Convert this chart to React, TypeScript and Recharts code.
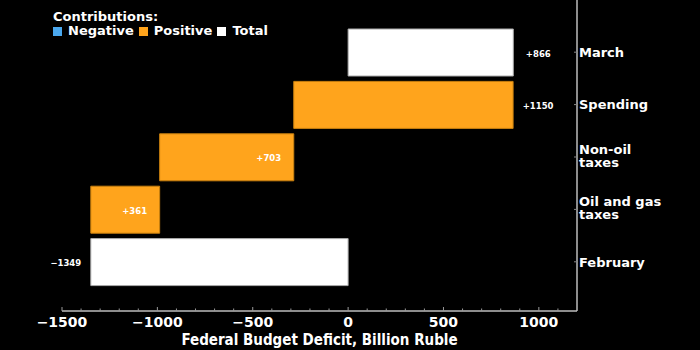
import React from "react";
import { BarChart, Bar, XAxis, YAxis, Cell, LabelList, Label } from "recharts";

// rows from top to bottom
const categories = ["March", "Spending", "Non-oil\ntaxes", "Oil and gas\ntaxes", "February"];
const values = [866, 1150, 703, 361, -1349];
const kinds = ["total", "positive", "positive", "positive", "total"];

const xTicks = [
  -1500, -1400, -1300, -1200, -1100, -1000, -900, -800, -700, -600, -500, -400, -300, -200, -100,
  0, 100, 200, 300, 400, 500, 600, 700, 800, 900, 1000, 1100,
];
const majorTicks = [-1500, -1000, -500, 0, 500, 1000];

const legendItems = [
  { name: "Negative", color: "#4aa8ef" },
  { name: "Positive", color: "#ffa41c" },
  { name: "Total", color: "#ffffff" },
];

const FILL: Record<string, string> = { positive: "#ffa41c", negative: "#4aa8ef", total: "#ffffff" };
const STROKE: Record<string, string> = { positive: "#c9800f", negative: "#2f7fc0", total: "#aaaaaa" };

const fmt = (v: number) => (v < 0 ? "\u2212" + Math.abs(v) : String(v));

// build the waterfall ranges, running from the bottom row upwards
const buildRows = () => {
  const rows: any[] = new Array(categories.length);
  let running = 0;
  for (let i = categories.length - 1; i >= 0; i--) {
    const v = values[i];
    let range: number[];
    if (kinds[i] === "total") {
      range = [Math.min(0, v), Math.max(0, v)];
      running = v;
    } else {
      range = [Math.min(running, running + v), Math.max(running, running + v)];
      running += v;
    }
    rows[i] = {
      name: categories[i],
      range,
      kind: kinds[i] === "total" ? "total" : v < 0 ? "negative" : "positive",
      label: v < 0 ? fmt(v) : "+" + v,
    };
  }
  return rows;
};

const data = buildRows();

const FONT = "'DejaVu Sans', sans-serif";

const XTick = (props: any) => {
  const { x, y, payload } = props;
  const v = payload.value;
  const major = majorTicks.includes(v);
  return (
    <g>
      <line x1={x} x2={x} y1={y} y2={y - (major ? 4 : 2.5)} stroke="#9a9a9a" strokeWidth={1} />
      {major && (
        <text x={x} y={y + 16} textAnchor="middle" fill="#fff" fontFamily={FONT} fontWeight="bold" fontSize={14}>
          {fmt(v)}
        </text>
      )}
    </g>
  );
};

const YTick = (props: any) => {
  const { x, y, payload } = props;
  const lines = String(payload.value).split("\n");
  const base = lines.length > 1 ? y - 3 : y + 4.7;
  return (
    <g>
      <line x1={x - 3} x2={x} y1={y} y2={y} stroke="#888" strokeWidth={1} />
      <text fill="#fff" fontFamily={FONT} fontWeight="bold" fontSize={13}>
        {lines.map((l, i) => (
          <tspan key={i} x={x + 2} y={base + i * 13}>
            {l}
          </tspan>
        ))}
      </text>
    </g>
  );
};

const BarLabel = (props: any) => {
  const { x, y, width, height, index } = props;
  const row = data[index];
  let cx: number;
  if (row.kind === "total" && row.range[0] < 0) cx = x - 25;
  else if (row.range[1] > 0) cx = x + width + 25;
  else cx = x + width - 25;
  return (
    <text x={cx} y={y + height / 2 + 4} textAnchor="middle" fill="#fff" fontFamily={FONT} fontWeight="bold" fontSize={8.5}>
      {row.label}
    </text>
  );
};

export default function App() {
  return (
    <div style={{ position: "absolute", left: 0, top: 0, width: 700, height: 350, background: "#000" }}>
      <BarChart
        width={700}
        height={350}
        data={data}
        layout="vertical"
        margin={{ top: 0, right: 10, bottom: 0, left: 62 }}
      >
        <XAxis
          type="number"
          domain={[-1500, 1200]}
          ticks={xTicks}
          interval={0}
          tick={<XTick />}
          tickSize={0}
          tickMargin={0}
          tickLine={false}
          height={39}
          axisLine={{ stroke: "#bdbdbd", strokeWidth: 1.5 }}
        >
          <Label
            value="Federal Budget Deficit, Billion Ruble"
            position="insideBottom"
            offset={5}
            fill="#fff"
            fontSize={15}
            fontWeight="bold"
            style={{ fontFamily: "'DejaVu Sans Condensed', 'DejaVu Sans', sans-serif", fontStretch: "condensed" }}
          />
        </XAxis>
        <YAxis
          type="category"
          dataKey="name"
          orientation="right"
          width={113}
          tick={<YTick />}
          tickSize={0}
          tickMargin={0}
          tickLine={false}
          interval={0}
          padding={{ top: 26, bottom: 23 }}
          axisLine={{ stroke: "#bdbdbd", strokeWidth: 1.5 }}
        />
        <Bar dataKey="range" barSize={47} isAnimationActive={false}>
          {data.map((d, i) => (
            <Cell key={`cell-${i}`} fill={FILL[d.kind]} stroke={STROKE[d.kind]} strokeWidth={1} />
          ))}
          <LabelList dataKey="label" content={<BarLabel />} />
        </Bar>
      </BarChart>
      <div
        style={{
          position: "absolute",
          left: 53,
          top: 10,
          color: "#fff",
          fontFamily: FONT,
          fontWeight: "bold",
          fontSize: 13,
          lineHeight: "14px",
        }}
      >
        <div>Contributions:</div>
        <div style={{ display: "flex", alignItems: "center" }}>
          {legendItems.map((it) => (
            <span key={it.name} style={{ display: "inline-flex", alignItems: "center", marginRight: 5 }}>
              <span
                style={{ display: "inline-block", width: 9, height: 9, background: it.color, marginRight: 6, marginTop: 1 }}
              />
              {it.name}
            </span>
          ))}
        </div>
      </div>
    </div>
  );
}
